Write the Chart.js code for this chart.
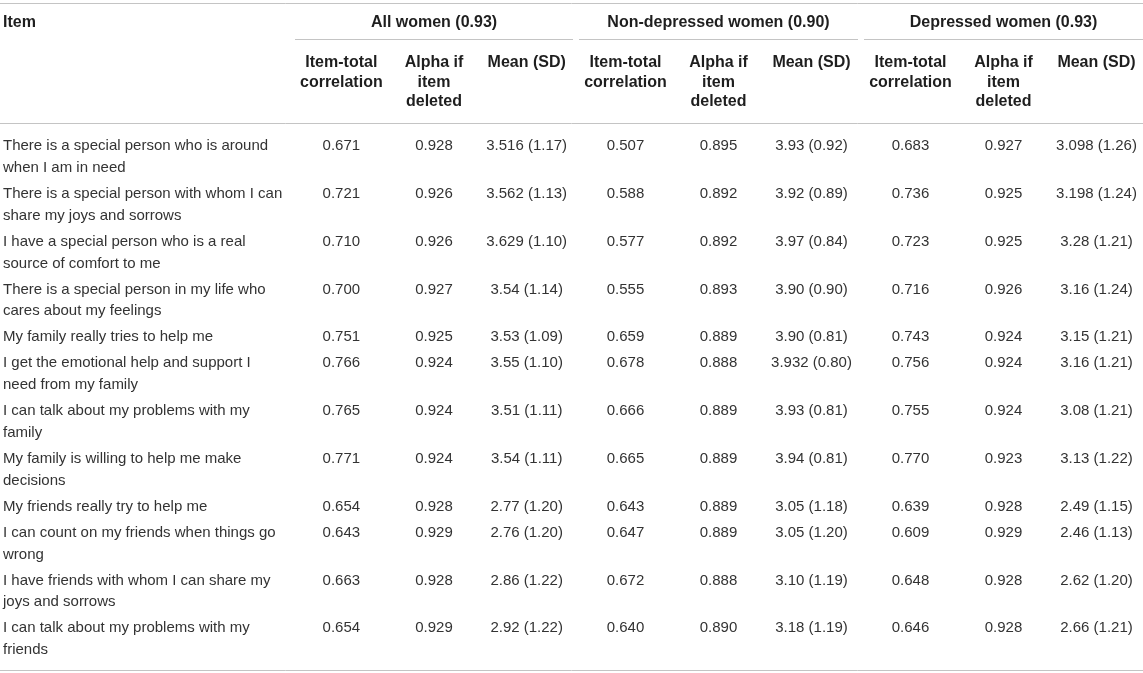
<!DOCTYPE html>
<html>
<head>
<meta charset="utf-8">
<script src="https://cdn.jsdelivr.net/npm/chart.js@4"></script>
<style>
  html, body { margin: 0; padding: 0; background: #fff; }
  #wrap { width: 1143px; height: 673px; }
</style>
</head>
<body>
<div id="wrap"><canvas id="myChart" width="1143" height="673"></canvas></div>
<script>
// ---- table data ----
const groups = ['All women (0.93)', 'Non-depressed women (0.90)', 'Depressed women (0.93)'];
const subHeaders = [['Item-total', 'correlation'], ['Alpha if', 'item', 'deleted'], ['Mean (SD)']];

const items = [
   ['There is a special person who is around', 'when I am in need'],
   ['There is a special person with whom I can', 'share my joys and sorrows'],
   ['I have a special person who is a real', 'source of comfort to me'],
   ['There is a special person in my life who', 'cares about my feelings'],
   ['My family really tries to help me'],
   ['I get the emotional help and support I', 'need from my family'],
   ['I can talk about my problems with my', 'family'],
   ['My family is willing to help me make', 'decisions'],
   ['My friends really try to help me'],
   ['I can count on my friends when things go', 'wrong'],
   ['I have friends with whom I can share my', 'joys and sorrows'],
   ['I can talk about my problems with my', 'friends'],
];

const allItemTotal = ['0.671', '0.721', '0.710', '0.700', '0.751', '0.766', '0.765', '0.771', '0.654', '0.643', '0.663', '0.654'];
const allAlpha = ['0.928', '0.926', '0.926', '0.927', '0.925', '0.924', '0.924', '0.924', '0.928', '0.929', '0.928', '0.929'];
const allMean = ['3.516 (1.17)', '3.562 (1.13)', '3.629 (1.10)', '3.54 (1.14)', '3.53 (1.09)', '3.55 (1.10)', '3.51 (1.11)', '3.54 (1.11)', '2.77 (1.20)', '2.76 (1.20)', '2.86 (1.22)', '2.92 (1.22)'];

const nonItemTotal = ['0.507', '0.588', '0.577', '0.555', '0.659', '0.678', '0.666', '0.665', '0.643', '0.647', '0.672', '0.640'];
const nonAlpha = ['0.895', '0.892', '0.892', '0.893', '0.889', '0.888', '0.889', '0.889', '0.889', '0.889', '0.888', '0.890'];
const nonMean = ['3.93 (0.92)', '3.92 (0.89)', '3.97 (0.84)', '3.90 (0.90)', '3.90 (0.81)', '3.932 (0.80)', '3.93 (0.81)', '3.94 (0.81)', '3.05 (1.18)', '3.05 (1.20)', '3.10 (1.19)', '3.18 (1.19)'];

const depItemTotal = ['0.683', '0.736', '0.723', '0.716', '0.743', '0.756', '0.755', '0.770', '0.639', '0.609', '0.648', '0.646'];
const depAlpha = ['0.927', '0.925', '0.925', '0.926', '0.924', '0.924', '0.924', '0.923', '0.928', '0.929', '0.928', '0.928'];
const depMean = ['3.098 (1.26)', '3.198 (1.24)', '3.28 (1.21)', '3.16 (1.24)', '3.15 (1.21)', '3.16 (1.21)', '3.08 (1.21)', '3.13 (1.22)', '2.49 (1.15)', '2.46 (1.13)', '2.62 (1.20)', '2.66 (1.21)'];

const columns = [allItemTotal, allAlpha, allMean, nonItemTotal, nonAlpha, nonMean, depItemTotal, depAlpha, depMean];

// ---- layout (table units) ----
const W = 1143, H = 673;
const itemX = 3;
const groupSpans = [[295, 573], [579, 858], [864, 1143]];
// each group split into three equal cells, text centred in the cell
const colCenters = [];
for (let g of groupSpans) {
   const w = (g[1] - g[0]) / 3;
   for (let k = 0; k < 3; ++k) colCenters.push(g[0] + w * (k + 0.5));
}
const lineH = 21.8, rowPad = 4.2, subLineH = 19.5;
const topRule = 3, groupRule = 39, headRule = 123, firstRow = 146, bottomRule = 670;
const titleY = 23, subY = 63;

const rowY = [];
let yAcc = firstRow;
for (let r = 0; r < items.length; ++r) {
   rowY.push(yAcc);
   yAcc += items[r].length * lineH + rowPad;
}

const FONT = '"Liberation Sans", Arial, Helvetica, sans-serif';
const TEXT = '#333333';
const HEAD = '#1e1e1e';
const RULE = '#c4c4c4';

// one scatter dataset per column; each point is a cell
const cellSets = [];
cellSets.push({
   label: 'Item',
   data: items.map((lines, r) => ({ x: itemX, y: rowY[r], text: lines, align: 'left' })),
   pointRadius: 0,
});
columns.forEach((col, c) => {
   cellSets.push({
      label: 'col' + c,
      data: col.map((v, r) => ({ x: colCenters[c], y: rowY[r], text: [v], align: 'center' })),
      pointRadius: 0,
   });
});

const tablePlugin = {
   id: 'tablePlugin',
   afterDatasetsDraw(chart) {
      const ctx = chart.ctx;
      const xs = chart.scales.x, ys = chart.scales.y;
      const px = (v) => xs.getPixelForValue(v);
      const py = (v) => ys.getPixelForValue(v);

      const hline = (x0, x1, y) => {
         ctx.beginPath();
         ctx.moveTo(px(x0), Math.round(py(y)) + 0.5);
         ctx.lineTo(px(x1), Math.round(py(y)) + 0.5);
         ctx.stroke();
      };

      ctx.save();
      ctx.strokeStyle = RULE;
      ctx.lineWidth = 1;
      hline(0, W, topRule);
      for (let g of groupSpans) hline(g[0], g[1], groupRule);
      hline(0, W, headRule);
      hline(0, W, bottomRule);

      // headers
      ctx.fillStyle = HEAD;
      ctx.textBaseline = 'middle';
      ctx.font = 'bold 16px ' + FONT;
      ctx.textAlign = 'left';
      ctx.fillText('Item', px(itemX), py(titleY));
      ctx.textAlign = 'center';
      groups.forEach((g, i) => {
         ctx.fillText(g, px((groupSpans[i][0] + groupSpans[i][1]) / 2), py(titleY));
      });
      colCenters.forEach((cx, c) => {
         const lines = subHeaders[c % 3];
         lines.forEach((t, k) => ctx.fillText(t, px(cx), py(subY + k * subLineH)));
      });

      // body cells
      ctx.fillStyle = TEXT;
      ctx.font = '15px ' + FONT;
      chart.data.datasets.forEach((ds, i) => {
         const meta = chart.getDatasetMeta(i);
         meta.data.forEach((pt, j) => {
            const cell = ds.data[j];
            ctx.textAlign = cell.align;
            cell.text.forEach((t, k) => ctx.fillText(t, pt.x, pt.y + k * lineH));
         });
      });
      ctx.restore();
   }
};

const config = {
   type: 'scatter',
   data: { datasets: cellSets },
   options: {
      responsive: false,
      animation: false,
      devicePixelRatio: 1,
      layout: { padding: 0 },
      plugins: { legend: { display: false }, tooltip: { enabled: false } },
      scales: {
         x: { type: 'linear', min: 0, max: W, display: false },
         y: { type: 'linear', min: 0, max: H, reverse: true, display: false },
      },
   },
   plugins: [tablePlugin],
};

const myChart = new Chart(document.getElementById('myChart').getContext('2d'), config);
</script>
</body>
</html>
